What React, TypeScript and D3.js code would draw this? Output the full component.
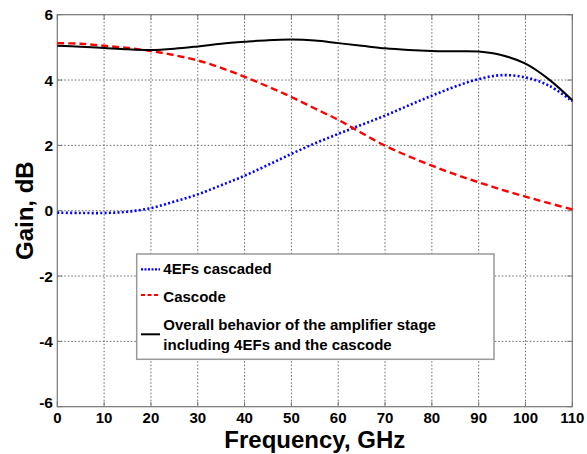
import React from "react";
import * as d3 from "d3";

const freqs = [0, 5, 10, 15, 20, 25, 30, 35, 40, 45, 50, 55, 60, 65, 70, 75, 80, 85, 90, 95, 100, 105, 110];
const efGain = [-0.06, -0.07, -0.07, -0.03, 0.08, 0.28, 0.5, 0.78, 1.07, 1.4, 1.74, 2.06, 2.35, 2.63, 2.91, 3.22, 3.52, 3.8, 4.03, 4.15, 4.08, 3.83, 3.35];
const cascodeGain = [5.13, 5.11, 5.05, 4.98, 4.89, 4.76, 4.6, 4.37, 4.1, 3.8, 3.48, 3.13, 2.78, 2.38, 1.99, 1.67, 1.38, 1.11, 0.87, 0.64, 0.43, 0.23, 0.04];
const overallGain = [5.05, 5.02, 4.98, 4.94, 4.92, 4.96, 5.03, 5.11, 5.17, 5.22, 5.24, 5.21, 5.13, 5.05, 4.97, 4.92, 4.89, 4.88, 4.87, 4.76, 4.5, 4.02, 3.38];
const xTicks = [0, 10, 20, 30, 40, 50, 60, 70, 80, 90, 100, 110];
const yTicks = [-6, -4, -2, 0, 2, 4, 6];
const legendLabels = ["4EFs cascaded", "Cascode", "Overall behavior of the amplifier stage", "including 4EFs and the cascode"];

const W = 587, H = 454;
const L = 57.3, R = 572.3, T = 14.7, B = 406.7;

export default function App() {
  const x = d3.scaleLinear().domain([0, 110]).range([L, R]);
  const y = d3.scaleLinear().domain([-6, 6]).range([B, T]);
  const line = d3.line<[number, number]>().x(d => x(d[0])).y(d => y(d[1])).curve(d3.curveCatmullRom.alpha(0.5));
  const mk = (vals: number[]) => line(freqs.map((f, i) => [f, vals[i]] as [number, number])) || "";
  const font = "'Liberation Sans', Arial, sans-serif";
  return (
    <svg width={W} height={H} style={{ position: "absolute", left: 0, top: 0, background: "#fff" }} fontFamily={font}>
      <rect x={0} y={0} width={W} height={H} fill="#fff" />
      {/* grid */}
      {xTicks.slice(1, -1).map(t => (
        <line key={"gx" + t} x1={x(t)} x2={x(t)} y1={T} y2={B} stroke="#666" strokeWidth={1} strokeDasharray="1.5,2" />
      ))}
      {yTicks.slice(1, -1).map(t => (
        <line key={"gy" + t} x1={L} x2={R} y1={y(t)} y2={y(t)} stroke="#666" strokeWidth={1} strokeDasharray="1.5,2" />
      ))}
      {/* frame */}
      <rect x={L} y={T} width={R - L} height={B - T} fill="none" stroke="#777" strokeWidth={1.2} />
      {/* ticks */}
      {xTicks.map(t => (
        <g key={"tx" + t}>
          <line x1={x(t)} x2={x(t)} y1={B} y2={B - 5} stroke="#777" />
          <line x1={x(t)} x2={x(t)} y1={T} y2={T + 5} stroke="#777" />
          <text x={x(t)} y={422.5} textAnchor="middle" fontSize={15} fontWeight="bold">{t}</text>
        </g>
      ))}
      {yTicks.map(t => (
        <g key={"ty" + t}>
          <line x1={L} x2={L + 5} y1={y(t)} y2={y(t)} stroke="#777" />
          <line x1={R} x2={R - 5} y1={y(t)} y2={y(t)} stroke="#777" />
          <text x={53} y={t === -6 ? y(t) + 1 : y(t) + 5.5} textAnchor="end" fontSize={15.5} fontWeight="bold">{t}</text>
        </g>
      ))}
      {/* series */}
      <path d={mk(efGain)} fill="none" stroke="#0000ff" strokeWidth={2.6} strokeDasharray="2,2.3" />
      <path d={mk(cascodeGain)} fill="none" stroke="#ff0000" strokeWidth={2.4} strokeDasharray="7,4" />
      <path d={mk(overallGain)} fill="none" stroke="#000" strokeWidth={2} />
      {/* axis titles */}
      <text x={(L + R) / 2} y={447.5} textAnchor="middle" fontSize={24} fontWeight="bold">Frequency, GHz</text>
      <text transform={`translate(33, ${(T + B) / 2}) rotate(-90)`} textAnchor="middle" fontSize={24} fontWeight="bold">Gain, dB</text>
      {/* legend */}
      <rect x={136.7} y={254} width={357.3} height={105.3} fill="#fff" stroke="#999" strokeWidth={1.5} />
      <line x1={141} x2={160} y1={269.3} y2={269.3} stroke="#0000ff" strokeWidth={2.2} strokeDasharray="2,1.5" />
      <line x1={141} x2={160} y1={295} y2={295} stroke="#ff0000" strokeWidth={2.2} strokeDasharray="4,2.5" />
      <line x1={141} x2={160} y1={334.3} y2={334.3} stroke="#000" strokeWidth={2} />
      <text x={163.3} y={274.3} fontSize={15} fontWeight="bold">{legendLabels[0]}</text>
      <text x={163.3} y={301.7} fontSize={15} fontWeight="bold">{legendLabels[1]}</text>
      <text x={163.3} y={330} fontSize={15} fontWeight="bold">{legendLabels[2]}</text>
      <text x={163.3} y={350} fontSize={15} fontWeight="bold">{legendLabels[3]}</text>
    </svg>
  );
}
